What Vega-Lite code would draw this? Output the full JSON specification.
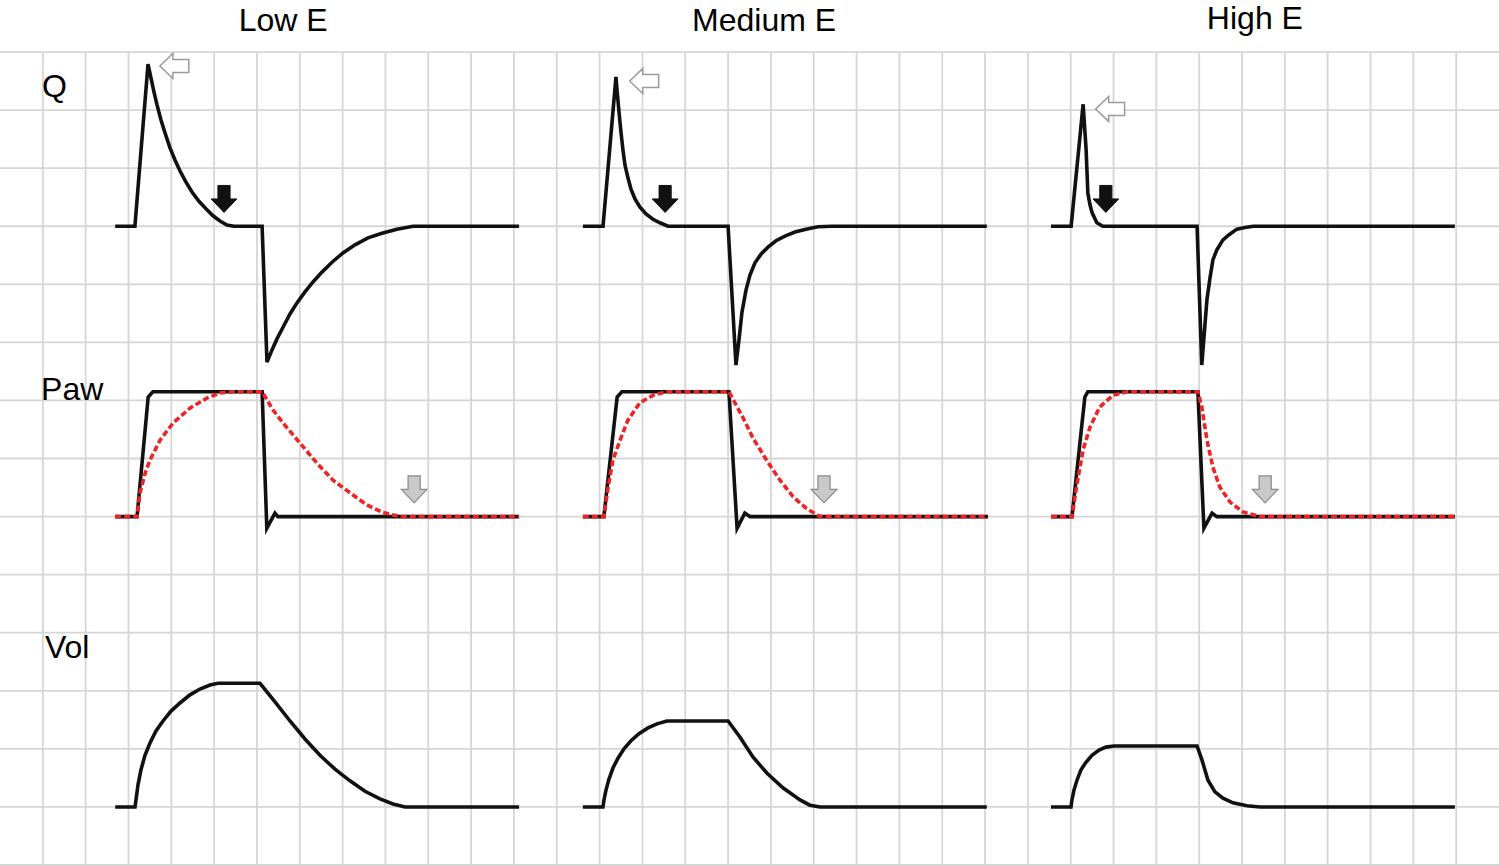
{
 "$schema": "https://vega.github.io/schema/vega-lite/v6.json",
 "width": 1499, "height": 866,
 "autosize": {"type": "none"},
 "padding": 0,
 "background": "white",
 "config": {"view": {"stroke": null}},
 "datasets": {
  "vgrid": [{"t":1},{"t":2},{"t":3},{"t":4},{"t":5},{"t":6},{"t":7},{"t":8},{"t":9},{"t":10},{"t":11},{"t":12},{"t":13},{"t":14},{"t":15},{"t":16},{"t":17},{"t":18},{"t":19},{"t":20},{"t":21},{"t":22},{"t":23},{"t":24},{"t":25},{"t":26},{"t":27},{"t":28},{"t":29},{"t":30},{"t":31},{"t":32},{"t":33},{"t":34}],
  "hgrid": [{"v":0},{"v":1},{"v":2},{"v":3},{"v":4},{"v":5},{"v":6},{"v":7},{"v":8},{"v":9},{"v":10},{"v":11},{"v":12},{"v":13},{"v":14}],
  "curves": [
   {"s":"QL","k":"s","t":2.69,"v":11},{"s":"QL","k":"s","t":3.15,"v":11},{"s":"QL","k":"s","t":3.456,"v":13.79},{"s":"QL","k":"s","t":3.526,"v":13.55},{"s":"QL","k":"s","t":3.596,"v":13.31},{"s":"QL","k":"s","t":3.666,"v":13.09},{"s":"QL","k":"s","t":3.759,"v":12.83},{"s":"QL","k":"s","t":3.852,"v":12.61},{"s":"QL","k":"s","t":3.969,"v":12.35},{"s":"QL","k":"s","t":4.086,"v":12.14},{"s":"QL","k":"s","t":4.203,"v":11.95},{"s":"QL","k":"s","t":4.343,"v":11.76},{"s":"QL","k":"s","t":4.483,"v":11.59},{"s":"QL","k":"s","t":4.646,"v":11.43},{"s":"QL","k":"s","t":4.81,"v":11.3},{"s":"QL","k":"s","t":4.973,"v":11.18},{"s":"QL","k":"s","t":5.137,"v":11.09},{"s":"QL","k":"s","t":5.3,"v":11.02},{"s":"QL","k":"s","t":5.463,"v":11},{"s":"QL","k":"s","t":6.12,"v":11},{"s":"QL","k":"s","t":6.234,"v":8.66},{"s":"QL","k":"s","t":6.351,"v":8.87},{"s":"QL","k":"s","t":6.467,"v":9.06},{"s":"QL","k":"s","t":6.608,"v":9.26},{"s":"QL","k":"s","t":6.771,"v":9.49},{"s":"QL","k":"s","t":6.934,"v":9.68},{"s":"QL","k":"s","t":7.121,"v":9.87},{"s":"QL","k":"s","t":7.308,"v":10.04},{"s":"QL","k":"s","t":7.518,"v":10.21},{"s":"QL","k":"s","t":7.752,"v":10.38},{"s":"QL","k":"s","t":8.008,"v":10.54},{"s":"QL","k":"s","t":8.289,"v":10.68},{"s":"QL","k":"s","t":8.592,"v":10.8},{"s":"QL","k":"s","t":8.919,"v":10.88},{"s":"QL","k":"s","t":9.269,"v":10.95},{"s":"QL","k":"s","t":9.643,"v":11},{"s":"QL","k":"s","t":12.12,"v":11},
   {"s":"PL","k":"s","t":2.69,"v":6},{"s":"PL","k":"s","t":3.2,"v":6},{"s":"PL","k":"s","t":3.46,"v":8.06},{"s":"PL","k":"s","t":3.57,"v":8.15},{"s":"PL","k":"s","t":6.12,"v":8.15},{"s":"PL","k":"s","t":6.23,"v":5.8},{"s":"PL","k":"s","t":6.42,"v":6.06},{"s":"PL","k":"s","t":6.49,"v":6},{"s":"PL","k":"s","t":12.12,"v":6},
   {"s":"PLr","k":"d","t":2.69,"v":6},{"s":"PLr","k":"d","t":3.2,"v":6},{"s":"PLr","k":"d","t":3.27,"v":6.41},{"s":"PLr","k":"d","t":3.39,"v":6.75},{"s":"PLr","k":"d","t":3.5,"v":6.97},{"s":"PLr","k":"d","t":3.74,"v":7.32},{"s":"PLr","k":"d","t":4.04,"v":7.61},{"s":"PLr","k":"d","t":4.44,"v":7.87},{"s":"PLr","k":"d","t":4.83,"v":8.04},{"s":"PLr","k":"d","t":5.14,"v":8.13},{"s":"PLr","k":"d","t":5.44,"v":8.15},{"s":"PLr","k":"d","t":6.12,"v":8.15},{"s":"PLr","k":"d","t":6.37,"v":7.84},{"s":"PLr","k":"d","t":6.61,"v":7.61},{"s":"PLr","k":"d","t":7.0,"v":7.27},{"s":"PLr","k":"d","t":7.4,"v":6.92},{"s":"PLr","k":"d","t":7.77,"v":6.63},{"s":"PLr","k":"d","t":8.17,"v":6.41},{"s":"PLr","k":"d","t":8.57,"v":6.2},{"s":"PLr","k":"d","t":8.94,"v":6.07},{"s":"PLr","k":"d","t":9.34,"v":6},{"s":"PLr","k":"d","t":12.12,"v":6},
   {"s":"VL","k":"s","t":2.69,"v":1},{"s":"VL","k":"s","t":3.152,"v":1},{"s":"VL","k":"s","t":3.175,"v":1.12},{"s":"VL","k":"s","t":3.222,"v":1.38},{"s":"VL","k":"s","t":3.292,"v":1.64},{"s":"VL","k":"s","t":3.385,"v":1.89},{"s":"VL","k":"s","t":3.502,"v":2.1},{"s":"VL","k":"s","t":3.642,"v":2.31},{"s":"VL","k":"s","t":3.806,"v":2.48},{"s":"VL","k":"s","t":3.993,"v":2.65},{"s":"VL","k":"s","t":4.203,"v":2.79},{"s":"VL","k":"s","t":4.436,"v":2.93},{"s":"VL","k":"s","t":4.67,"v":3.03},{"s":"VL","k":"s","t":4.903,"v":3.1},{"s":"VL","k":"s","t":5.09,"v":3.13},{"s":"VL","k":"s","t":6.07,"v":3.13},{"s":"VL","k":"s","t":6.421,"v":2.81},{"s":"VL","k":"s","t":6.771,"v":2.48},{"s":"VL","k":"s","t":7.121,"v":2.17},{"s":"VL","k":"s","t":7.471,"v":1.89},{"s":"VL","k":"s","t":7.822,"v":1.65},{"s":"VL","k":"s","t":8.172,"v":1.45},{"s":"VL","k":"s","t":8.522,"v":1.27},{"s":"VL","k":"s","t":8.872,"v":1.14},{"s":"VL","k":"s","t":9.176,"v":1.05},{"s":"VL","k":"s","t":9.456,"v":1},{"s":"VL","k":"s","t":12.12,"v":1},
   {"s":"QM","k":"s","t":13.61,"v":11},{"s":"QM","k":"s","t":14.08,"v":11},{"s":"QM","k":"s","t":14.382,"v":13.57},{"s":"QM","k":"s","t":14.406,"v":13.35},{"s":"QM","k":"s","t":14.453,"v":12.97},{"s":"QM","k":"s","t":14.499,"v":12.62},{"s":"QM","k":"s","t":14.546,"v":12.31},{"s":"QM","k":"s","t":14.593,"v":12.05},{"s":"QM","k":"s","t":14.663,"v":11.83},{"s":"QM","k":"s","t":14.733,"v":11.64},{"s":"QM","k":"s","t":14.826,"v":11.47},{"s":"QM","k":"s","t":14.943,"v":11.33},{"s":"QM","k":"s","t":15.083,"v":11.21},{"s":"QM","k":"s","t":15.246,"v":11.12},{"s":"QM","k":"s","t":15.41,"v":11.06},{"s":"QM","k":"s","t":15.597,"v":11},{"s":"QM","k":"s","t":17.0,"v":11},{"s":"QM","k":"s","t":17.184,"v":8.61},{"s":"QM","k":"s","t":17.254,"v":9.04},{"s":"QM","k":"s","t":17.324,"v":9.52},{"s":"QM","k":"s","t":17.418,"v":9.9},{"s":"QM","k":"s","t":17.511,"v":10.16},{"s":"QM","k":"s","t":17.628,"v":10.37},{"s":"QM","k":"s","t":17.768,"v":10.52},{"s":"QM","k":"s","t":17.931,"v":10.64},{"s":"QM","k":"s","t":18.118,"v":10.75},{"s":"QM","k":"s","t":18.328,"v":10.83},{"s":"QM","k":"s","t":18.562,"v":10.9},{"s":"QM","k":"s","t":18.819,"v":10.95},{"s":"QM","k":"s","t":19.099,"v":10.99},{"s":"QM","k":"s","t":19.426,"v":11},{"s":"QM","k":"s","t":23.04,"v":11},
   {"s":"PM","k":"s","t":13.61,"v":6},{"s":"PM","k":"s","t":14.1,"v":6},{"s":"PM","k":"s","t":14.41,"v":8.06},{"s":"PM","k":"s","t":14.52,"v":8.15},{"s":"PM","k":"s","t":17.02,"v":8.15},{"s":"PM","k":"s","t":17.21,"v":5.8},{"s":"PM","k":"s","t":17.39,"v":6.06},{"s":"PM","k":"s","t":17.51,"v":6},{"s":"PM","k":"s","t":23.07,"v":6},
   {"s":"PMr","k":"d","t":13.61,"v":6},{"s":"PMr","k":"d","t":14.1,"v":6},{"s":"PMr","k":"d","t":14.2,"v":6.51},{"s":"PMr","k":"d","t":14.31,"v":6.97},{"s":"PMr","k":"d","t":14.48,"v":7.32},{"s":"PMr","k":"d","t":14.66,"v":7.66},{"s":"PMr","k":"d","t":14.94,"v":7.96},{"s":"PMr","k":"d","t":15.25,"v":8.09},{"s":"PMr","k":"d","t":15.57,"v":8.15},{"s":"PMr","k":"d","t":17.02,"v":8.15},{"s":"PMr","k":"d","t":17.35,"v":7.7},{"s":"PMr","k":"d","t":17.59,"v":7.34},{"s":"PMr","k":"d","t":17.9,"v":6.97},{"s":"PMr","k":"d","t":18.21,"v":6.63},{"s":"PMr","k":"d","t":18.52,"v":6.34},{"s":"PMr","k":"d","t":18.83,"v":6.14},{"s":"PMr","k":"d","t":19.15,"v":6},{"s":"PMr","k":"d","t":23.07,"v":6},
   {"s":"VM","k":"s","t":13.61,"v":1},{"s":"VM","k":"s","t":14.079,"v":1},{"s":"VM","k":"s","t":14.102,"v":1.12},{"s":"VM","k":"s","t":14.149,"v":1.29},{"s":"VM","k":"s","t":14.219,"v":1.48},{"s":"VM","k":"s","t":14.312,"v":1.67},{"s":"VM","k":"s","t":14.429,"v":1.84},{"s":"VM","k":"s","t":14.569,"v":2.0},{"s":"VM","k":"s","t":14.733,"v":2.14},{"s":"VM","k":"s","t":14.92,"v":2.26},{"s":"VM","k":"s","t":15.13,"v":2.36},{"s":"VM","k":"s","t":15.34,"v":2.43},{"s":"VM","k":"s","t":15.573,"v":2.48},{"s":"VM","k":"s","t":17.0,"v":2.48},{"s":"VM","k":"s","t":17.28,"v":2.2},{"s":"VM","k":"s","t":17.58,"v":1.86},{"s":"VM","k":"s","t":17.91,"v":1.58},{"s":"VM","k":"s","t":18.28,"v":1.33},{"s":"VM","k":"s","t":18.68,"v":1.12},{"s":"VM","k":"s","t":18.91,"v":1.03},{"s":"VM","k":"s","t":19.15,"v":1},{"s":"VM","k":"s","t":23.04,"v":1},
   {"s":"QH","k":"s","t":24.54,"v":11},{"s":"QH","k":"s","t":25.01,"v":11},{"s":"QH","k":"s","t":25.29,"v":13.1},{"s":"QH","k":"s","t":25.36,"v":12.31},{"s":"QH","k":"s","t":25.4,"v":11.57},{"s":"QH","k":"s","t":25.45,"v":11.37},{"s":"QH","k":"s","t":25.5,"v":11.23},{"s":"QH","k":"s","t":25.61,"v":11.06},{"s":"QH","k":"s","t":25.75,"v":11},{"s":"QH","k":"s","t":27.95,"v":11},{"s":"QH","k":"s","t":28.06,"v":8.61},{"s":"QH","k":"s","t":28.18,"v":9.73},{"s":"QH","k":"s","t":28.25,"v":10.1},{"s":"QH","k":"s","t":28.32,"v":10.42},{"s":"QH","k":"s","t":28.41,"v":10.59},{"s":"QH","k":"s","t":28.55,"v":10.76},{"s":"QH","k":"s","t":28.69,"v":10.85},{"s":"QH","k":"s","t":28.88,"v":10.95},{"s":"QH","k":"s","t":29.07,"v":10.98},{"s":"QH","k":"s","t":29.26,"v":11},{"s":"QH","k":"s","t":33.97,"v":11},
   {"s":"PH","k":"s","t":24.54,"v":6},{"s":"PH","k":"s","t":25.03,"v":6},{"s":"PH","k":"s","t":25.33,"v":8.06},{"s":"PH","k":"s","t":25.4,"v":8.15},{"s":"PH","k":"s","t":27.97,"v":8.15},{"s":"PH","k":"s","t":28.11,"v":5.8},{"s":"PH","k":"s","t":28.3,"v":6.06},{"s":"PH","k":"s","t":28.41,"v":6},{"s":"PH","k":"s","t":33.97,"v":6},
   {"s":"PHr","k":"d","t":24.54,"v":6},{"s":"PHr","k":"d","t":25.03,"v":6},{"s":"PHr","k":"d","t":25.15,"v":6.58},{"s":"PHr","k":"d","t":25.29,"v":7.15},{"s":"PHr","k":"d","t":25.45,"v":7.54},{"s":"PHr","k":"d","t":25.68,"v":7.89},{"s":"PHr","k":"d","t":25.99,"v":8.09},{"s":"PHr","k":"d","t":26.31,"v":8.15},{"s":"PHr","k":"d","t":27.97,"v":8.15},{"s":"PHr","k":"d","t":28.06,"v":7.89},{"s":"PHr","k":"d","t":28.18,"v":7.32},{"s":"PHr","k":"d","t":28.32,"v":6.85},{"s":"PHr","k":"d","t":28.48,"v":6.51},{"s":"PHr","k":"d","t":28.72,"v":6.25},{"s":"PHr","k":"d","t":29.02,"v":6.08},{"s":"PHr","k":"d","t":29.42,"v":6},{"s":"PHr","k":"d","t":33.97,"v":6},
   {"s":"VH","k":"s","t":24.54,"v":1},{"s":"VH","k":"s","t":25.006,"v":1},{"s":"VH","k":"s","t":25.029,"v":1.12},{"s":"VH","k":"s","t":25.076,"v":1.29},{"s":"VH","k":"s","t":25.146,"v":1.46},{"s":"VH","k":"s","t":25.24,"v":1.64},{"s":"VH","k":"s","t":25.356,"v":1.77},{"s":"VH","k":"s","t":25.496,"v":1.89},{"s":"VH","k":"s","t":25.66,"v":1.98},{"s":"VH","k":"s","t":25.823,"v":2.03},{"s":"VH","k":"s","t":26.01,"v":2.05},{"s":"VH","k":"s","t":27.95,"v":2.05},{"s":"VH","k":"s","t":28.064,"v":1.81},{"s":"VH","k":"s","t":28.205,"v":1.46},{"s":"VH","k":"s","t":28.368,"v":1.26},{"s":"VH","k":"s","t":28.555,"v":1.15},{"s":"VH","k":"s","t":28.788,"v":1.07},{"s":"VH","k":"s","t":29.115,"v":1.02},{"s":"VH","k":"s","t":29.42,"v":1},{"s":"VH","k":"s","t":33.97,"v":1}
  ],
  "arrows": [
   {"a":"open","t":4.07,"v":13.76},{"a":"open","t":15.04,"v":13.5},{"a":"open","t":25.92,"v":13.02},
   {"a":"black","t":5.23,"v":11.47},{"a":"black","t":15.53,"v":11.47},{"a":"black","t":25.82,"v":11.47},
   {"a":"gray","t":9.67,"v":6.47},{"a":"gray","t":19.24,"v":6.47},{"a":"gray","t":29.54,"v":6.47}
  ],
  "titles": [{"t":6.61,"v":14.36,"label":"Low E"},{"t":17.84,"v":14.36,"label":"Medium E"},{"t":29.3,"v":14.4,"label":"High E"}],
  "labels": [{"t":0.98,"v":13.23,"label":"Q"},{"t":0.96,"v":8.01,"label":"Paw"},{"t":1.05,"v":3.56,"label":"Vol"}]
 },
 "layer": [
  {
   "data": {"name": "vgrid"},
   "mark": {"type": "rule", "color": "#d6d6d6", "strokeWidth": 1.8},
   "encoding": {
    "x": {"field": "t", "type": "quantitative", "scale": {"domain": [0, 35], "nice": false, "zero": false}, "axis": null},
    "y": {"datum": -0.0172, "type": "quantitative", "scale": {"domain": [-0.0172, 14.896], "nice": false, "zero": false}, "axis": null},
    "y2": {"datum": 14}
   }
  },
  {
   "data": {"name": "hgrid"},
   "mark": {"type": "rule", "color": "#d6d6d6", "strokeWidth": 1.8},
   "encoding": {
    "y": {"field": "v", "type": "quantitative", "scale": {"domain": [-0.0172, 14.896], "nice": false, "zero": false}, "axis": null},
    "x": {"datum": 0, "type": "quantitative", "scale": {"domain": [0, 35], "nice": false, "zero": false}, "axis": null},
    "x2": {"datum": 35}
   }
  },
  {
   "data": {"name": "curves"},
   "transform": [{"filter": "datum.k == 's'"}],
   "mark": {"type": "line", "color": "#111111", "strokeWidth": 3.6},
   "encoding": {
    "x": {"field": "t", "type": "quantitative", "scale": {"domain": [0, 35], "nice": false, "zero": false}, "axis": null},
    "y": {"field": "v", "type": "quantitative", "scale": {"domain": [-0.0172, 14.896], "nice": false, "zero": false}, "axis": null},
    "detail": {"field": "s", "type": "nominal"}
   }
  },
  {
   "data": {"name": "curves"},
   "transform": [{"filter": "datum.k == 'd'"}],
   "mark": {"type": "line", "color": "#ee2326", "strokeWidth": 3.6, "strokeDash": [6, 3]},
   "encoding": {
    "x": {"field": "t", "type": "quantitative", "scale": {"domain": [0, 35], "nice": false, "zero": false}, "axis": null},
    "y": {"field": "v", "type": "quantitative", "scale": {"domain": [-0.0172, 14.896], "nice": false, "zero": false}, "axis": null},
    "detail": {"field": "s", "type": "nominal"}
   }
  },
  {
   "data": {"name": "arrows"},
   "transform": [{"filter": "datum.a == 'open'"}],
   "mark": {"type": "point", "shape": "M-1,0L-0.1,-0.86L-0.1,-0.45L1,-0.45L1,0.45L-0.1,0.45L-0.1,0.86Z", "size": 841, "filled": true, "fill": "white", "stroke": "#9a9a9a", "strokeWidth": 1.5, "opacity": 1},
   "encoding": {
    "x": {"field": "t", "type": "quantitative", "scale": {"domain": [0, 35], "nice": false, "zero": false}, "axis": null},
    "y": {"field": "v", "type": "quantitative", "scale": {"domain": [-0.0172, 14.896], "nice": false, "zero": false}, "axis": null}
   }
  },
  {
   "data": {"name": "arrows"},
   "transform": [{"filter": "datum.a == 'black'"}],
   "mark": {"type": "point", "shape": "M-0.45,-1L0.45,-1L0.45,0L0.95,0L0,1L-0.95,0L-0.45,0Z", "size": 729, "filled": true, "fill": "#111111", "stroke": "#111111", "strokeWidth": 1, "opacity": 1},
   "encoding": {
    "x": {"field": "t", "type": "quantitative", "scale": {"domain": [0, 35], "nice": false, "zero": false}, "axis": null},
    "y": {"field": "v", "type": "quantitative", "scale": {"domain": [-0.0172, 14.896], "nice": false, "zero": false}, "axis": null}
   }
  },
  {
   "data": {"name": "arrows"},
   "transform": [{"filter": "datum.a == 'gray'"}],
   "mark": {"type": "point", "shape": "M-0.45,-1L0.45,-1L0.45,0L0.95,0L0,1L-0.95,0L-0.45,0Z", "size": 729, "filled": true, "fill": "#c9c9c9", "stroke": "#8a8a8a", "strokeWidth": 1.2, "opacity": 1},
   "encoding": {
    "x": {"field": "t", "type": "quantitative", "scale": {"domain": [0, 35], "nice": false, "zero": false}, "axis": null},
    "y": {"field": "v", "type": "quantitative", "scale": {"domain": [-0.0172, 14.896], "nice": false, "zero": false}, "axis": null}
   }
  },
  {
   "data": {"name": "titles"},
   "mark": {"type": "text", "align": "center", "baseline": "alphabetic", "fontSize": 32, "font": "Liberation Sans", "color": "#000000"},
   "encoding": {
    "x": {"field": "t", "type": "quantitative", "scale": {"domain": [0, 35], "nice": false, "zero": false}, "axis": null},
    "y": {"field": "v", "type": "quantitative", "scale": {"domain": [-0.0172, 14.896], "nice": false, "zero": false}, "axis": null},
    "text": {"field": "label"}
   }
  },
  {
   "data": {"name": "labels"},
   "mark": {"type": "text", "align": "left", "baseline": "alphabetic", "fontSize": 32, "font": "Liberation Sans", "color": "#000000"},
   "encoding": {
    "x": {"field": "t", "type": "quantitative", "scale": {"domain": [0, 35], "nice": false, "zero": false}, "axis": null},
    "y": {"field": "v", "type": "quantitative", "scale": {"domain": [-0.0172, 14.896], "nice": false, "zero": false}, "axis": null},
    "text": {"field": "label"}
   }
  }
 ]
}
